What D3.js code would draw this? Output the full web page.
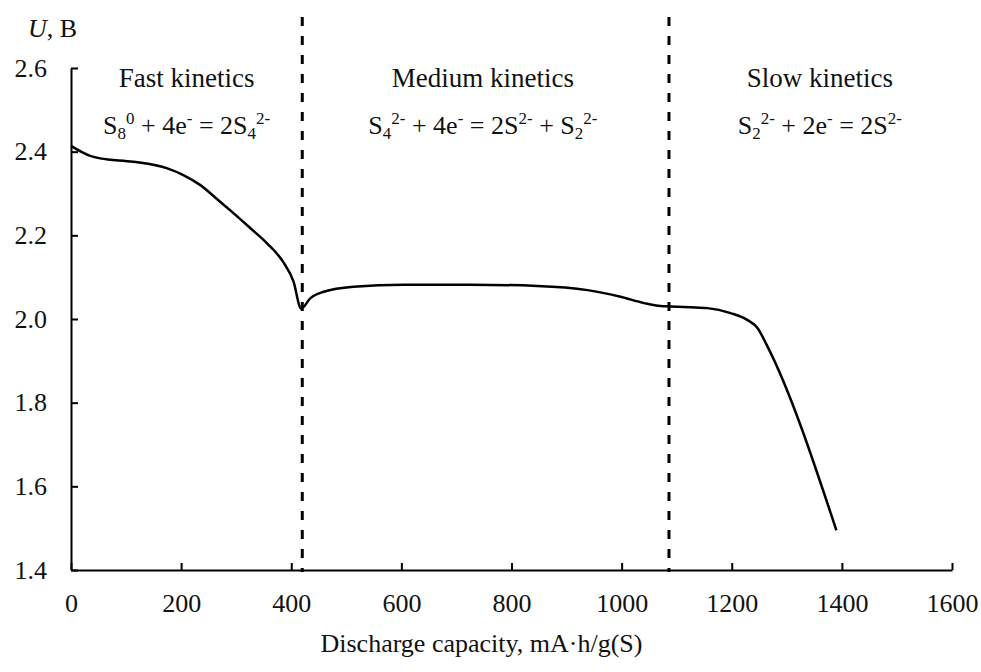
<!DOCTYPE html>
<html>
<head>
<meta charset="utf-8">
<script src="https://cdn.jsdelivr.net/npm/d3@7"></script>
<style>
    body { margin: 0; background: #fff; }
    svg text { font-family: "Liberation Serif", "Times New Roman", "DejaVu Serif", serif; }
    .axis path, .axis line { stroke: #000; stroke-width: 2; }
    .axis text { font-size: 26px; fill: #111; }
</style>
</head>
<body>
<div id="chart"></div>
<script>
// discharge curve
const capacity = [0, 35, 53, 113, 175, 204, 235, 265, 295, 325, 356, 385, 404, 418,
    435, 459, 513, 604, 725, 847, 938, 998, 1041, 1071, 1089, 1125, 1156, 1198,
    1228, 1247, 1265, 1390];
const voltage = [2.414, 2.39, 2.384, 2.376, 2.36, 2.344, 2.32, 2.287, 2.253, 2.218, 2.181,
    2.137, 2.09, 2.025, 2.05, 2.065, 2.077, 2.082, 2.082, 2.079, 2.069, 2.053,
    2.038, 2.031, 2.03, 2.028, 2.026, 2.014, 1.998, 1.978, 1.934, 1.495];

const boundaries = [420, 1086];
const xTicks = [0, 200, 400, 600, 800, 1000, 1200, 1400, 1600];
const yTicks = [1.4, 1.6, 1.8, 2.0, 2.2, 2.4, 2.6];

const regionTitles = ["Fast kinetics", "Medium kinetics", "Slow kinetics"];
const regionCenters = [210, 748, 1360];
// reaction strings: [text, shift] where shift = "sub" | "sup" | null
const reactions = [
    [["S", null], ["8", "sub"], ["0", "sup"], [" + 4e", null], ["-", "sup"], [" = 2S", null], ["4", "sub"], ["2-", "sup"]],
    [["S", null], ["4", "sub"], ["2-", "sup"], [" + 4e", null], ["-", "sup"], [" = 2S", null], ["2-", "sup"], [" + S", null], ["2", "sub"], ["2-", "sup"]],
    [["S", null], ["2", "sub"], ["2-", "sup"], [" + 2e", null], ["-", "sup"], [" = 2S", null], ["2-", "sup"]]
];

const width = 981, height = 672;
const margin = { top: 68, right: 29, bottom: 102, left: 71 };

const svg = d3.select("#chart").append("svg")
    .attr("width", width)
    .attr("height", height);

const x = d3.scaleLinear()
    .domain([0, 1600])
    .range([margin.left, width - margin.right]);

const y = d3.scaleLinear()
    .domain([1.4, 2.6])
    .range([height - margin.bottom, margin.top]);

svg.append("g")
    .attr("class", "axis")
    .attr("transform", "translate(0," + (height - margin.bottom) + ")")
    .call(d3.axisBottom(x).tickValues(xTicks).tickFormat(d3.format("d")).tickSize(-7).tickSizeOuter(0).tickPadding(24));

svg.append("g")
    .attr("class", "axis")
    .attr("transform", "translate(" + margin.left + ",0)")
    .call(d3.axisLeft(y).tickValues(yTicks).tickFormat(d3.format(".1f")).tickSize(-7).tickSizeOuter(0).tickPadding(24));

// region boundaries
svg.selectAll(".boundary")
    .data(boundaries)
    .join("line")
    .attr("class", "boundary")
    .attr("x1", d => x(d))
    .attr("x2", d => x(d))
    .attr("y1", 17)
    .attr("y2", height - margin.bottom + 2)
    .attr("stroke", "#000")
    .attr("stroke-width", 3)
    .attr("stroke-dasharray", "9,10");

// the curve
svg.append("path")
    .datum(d3.zip(capacity, voltage))
    .attr("fill", "none")
    .attr("stroke", "#000")
    .attr("stroke-width", 2.5)
    .attr("stroke-linejoin", "round")
    .attr("d", d3.line()
        .x(d => x(d[0]))
        .y(d => y(d[1]))
        .curve(d3.curveMonotoneX));

// region labels
svg.selectAll(".region-title")
    .data(regionTitles)
    .join("text")
    .attr("class", "region-title")
    .attr("x", (d, i) => x(regionCenters[i]))
    .attr("y", 87)
    .attr("text-anchor", "middle")
    .attr("font-size", 27)
    .attr("fill", "#111")
    .text(d => d);

const reactionText = svg.selectAll(".reaction")
    .data(reactions)
    .join("text")
    .attr("class", "reaction")
    .attr("x", (d, i) => x(regionCenters[i]))
    .attr("y", 134)
    .attr("text-anchor", "middle")
    .attr("font-size", 26)
    .attr("fill", "#111");

reactionText.selectAll("tspan")
    .data(d => d)
    .join("tspan")
    .attr("font-size", d => d[1] ? 17 : 26)
    .attr("baseline-shift", d => d[1] === "sub" ? "-5" : d[1] === "sup" ? "10" : null)
    .text(d => d[0]);

// axis titles
const yTitle = svg.append("text")
    .attr("x", 28)
    .attr("y", 37)
    .attr("font-size", 26)
    .attr("fill", "#111");
yTitle.append("tspan").attr("font-style", "italic").text("U");
yTitle.append("tspan").text(", B");

svg.append("text")
    .attr("x", x(800) - 30)
    .attr("y", 652)
    .attr("text-anchor", "middle")
    .attr("font-size", 26)
    .attr("fill", "#111")
    .text("Discharge capacity, mA·h/g(S)");
</script>
</body>
</html>
